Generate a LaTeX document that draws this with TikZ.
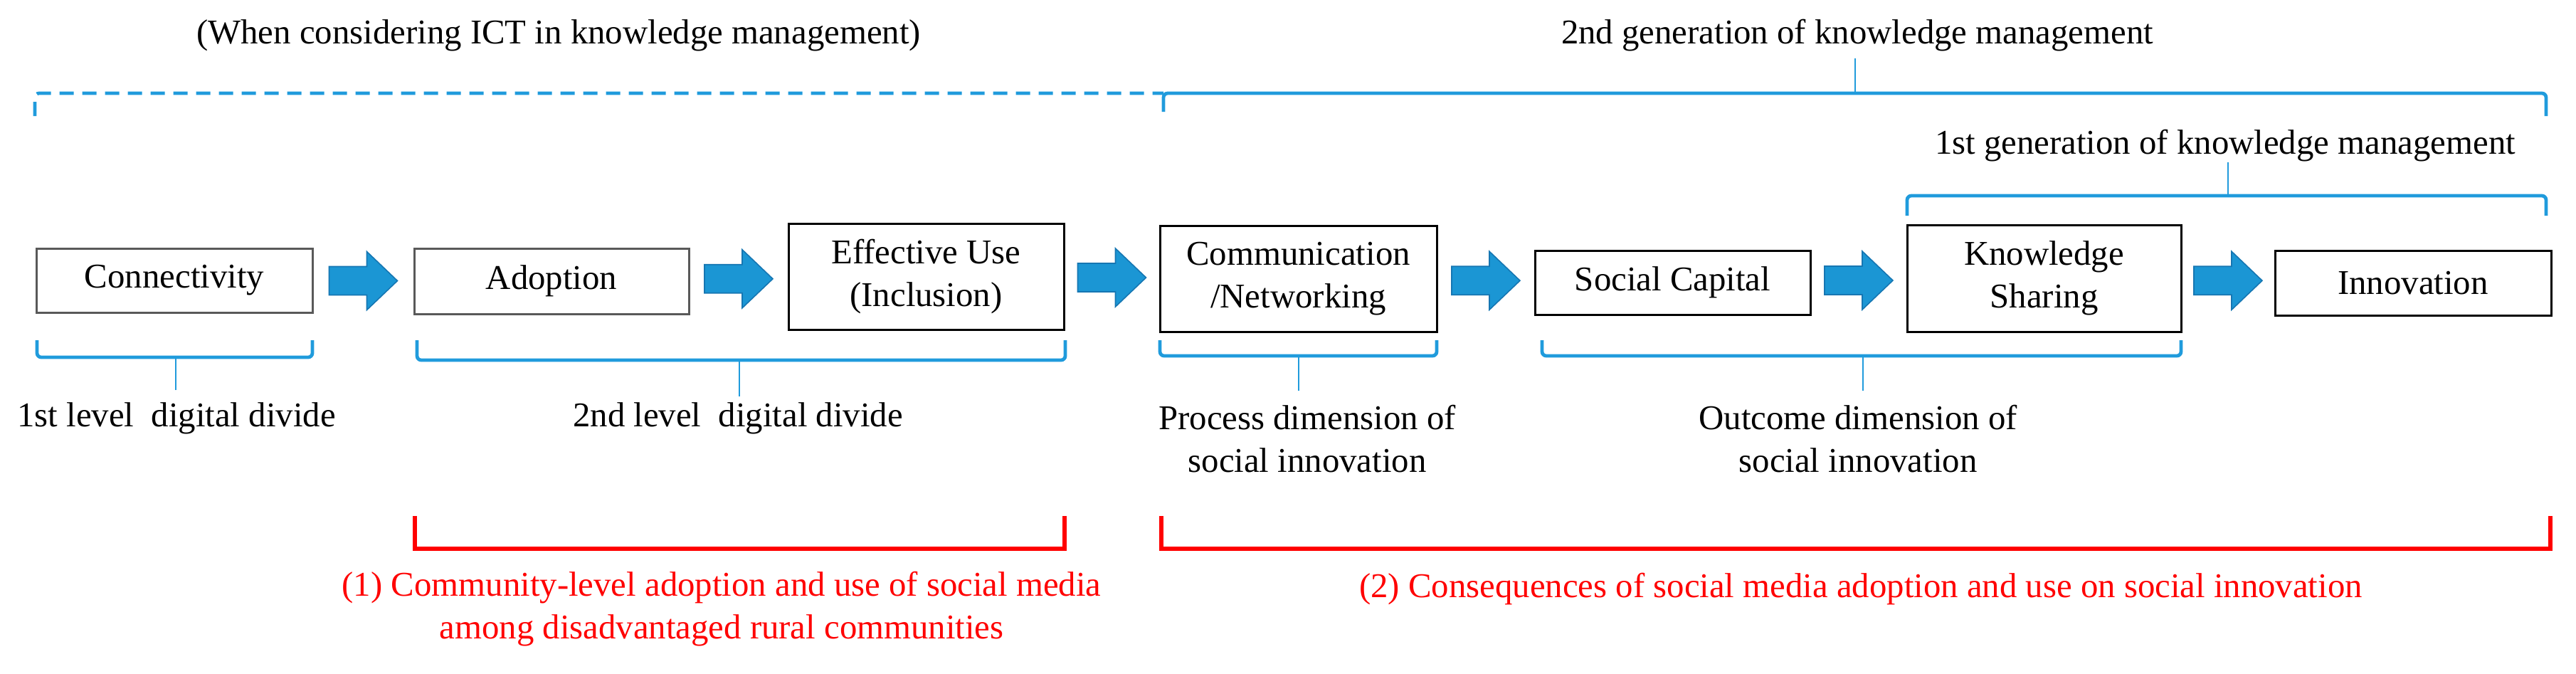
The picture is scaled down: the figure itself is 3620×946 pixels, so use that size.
\documentclass[tikz,border=0pt]{standalone}
\usepackage{fontspec}
\setmainfont{Liberation Serif}
\usetikzlibrary{calc}
\definecolor{kblue}{RGB}{32,155,220}
\definecolor{ablue}{RGB}{27,150,212}
\definecolor{aedge}{RGB}{22,118,178}
\newcommand\pxu{0.25pt}
\newcommand\fatarrow[2]{%
  \draw[fatarr] ($(#1.east)!0.5!(#2.west)$) ++(-48,-20) -- ++(53,0) -- ++(0,-21)
    -- ++(43,41) -- ++(-43,41) -- ++(0,-21) -- ++(-53,0) -- cycle;}
\begin{document}
\begin{tikzpicture}[x=0.25pt,y=-0.25pt,
  every node/.style={font=\fontsize{12.2}{15}\selectfont},
  box/.style={draw=black,line width=0.75pt,fill=white,inner sep=0pt,align=center},
  greybox/.style={box,draw=black!65},
  fatarr/.style={fill=ablue,draw=aedge,line width=0.4pt,line join=miter},
  brk/.style={draw=kblue,line width=1.2pt,rounded corners=1.5pt},
  stem/.style={draw=kblue,line width=0.6pt},
  dbrk/.style={brk,dash pattern=on 5pt off 3pt},
  redbrk/.style={draw=red,line width=1.5pt},
  lbl/.style={align=center,inner sep=0pt},
  redlbl/.style={lbl,text=red}]
\useasboundingbox (0,0) rectangle (3620,946);

% boxes
\node[greybox,minimum width=388*\pxu,minimum height=90*\pxu] (conn) at (245,394) {Connectivity};
\node[greybox,minimum width=386*\pxu,minimum height=92*\pxu] (adopt) at (775,395) {Adoption};
\node[box,minimum width=387*\pxu,minimum height=149*\pxu] (eff) at (1301.5,388.5) {Effective Use\\(Inclusion)};
\node[box,minimum width=389*\pxu,minimum height=149*\pxu] (comm) at (1824.5,391.5) {Communication\\/Networking};
\node[box,minimum width=387*\pxu,minimum height=90*\pxu] (soc) at (2350.5,397) {Social Capital};
\node[box,minimum width=385*\pxu,minimum height=150*\pxu] (know) at (2872.5,391) {Knowledge\\Sharing};
\node[box,minimum width=388*\pxu,minimum height=91*\pxu] (innov) at (3391,397.5) {Innovation};

% arrows
\fatarrow{conn}{adopt}
\fatarrow{adopt}{eff}
\fatarrow{eff}{comm}
\fatarrow{comm}{soc}
\fatarrow{soc}{know}
\fatarrow{know}{innov}

% top labels
\node[lbl] (ict) at (785,50) {(When considering ICT in knowledge management)};
\node[lbl] (gen2) at (2610,50) {2nd generation of knowledge management};
\node[lbl] (gen1) at (3127,205) {1st generation of knowledge management};

% top brackets
\draw[dbrk] (49,163) -- (49,131) -- (1635,131);
\draw[brk] (1635,157) -- (1635,131) -- (3578,131) -- (3578,163);
\coordinate (g2a) at (2607,131);
\coordinate (g2b) at (2607,82);
\draw[stem] (g2a) -- (g2b);
\draw[brk] (2680,303) -- (2680,275) -- (3578,275) -- (3578,303);
\coordinate (g1a) at (3131,275);
\coordinate (g1b) at (3131,228);
\draw[stem] (g1a) -- (g1b);

% bottom blue brackets
\draw[brk] (52,478) -- (52,502) -- (439,502) -- (439,478);
\coordinate (b1a) at (247,502); \coordinate (b1b) at (247,548);
\draw[stem] (b1a) -- (b1b);
\draw[brk] (586,478) -- (586,506) -- (1497,506) -- (1497,478);
\coordinate (b2a) at (1039,506); \coordinate (b2b) at (1039,557);
\draw[stem] (b2a) -- (b2b);
\draw[brk] (1630,478) -- (1630,500) -- (2019,500) -- (2019,478);
\coordinate (b3a) at (1825,500); \coordinate (b3b) at (1825,549);
\draw[stem] (b3a) -- (b3b);
\draw[brk] (2167,478) -- (2167,500) -- (3065,500) -- (3065,478);
\coordinate (b4a) at (2618,500); \coordinate (b4b) at (2618,549);
\draw[stem] (b4a) -- (b4b);

% bottom labels
\node[lbl] (l1) at (248,588) {1st level\ \ digital divide};
\node[lbl] (l2) at (1037,588) {2nd level\ \ digital divide};
\node[lbl] (l3) at (1837,617) {Process dimension of\\social innovation};
\node[lbl] (l4) at (2611,617) {Outcome dimension of\\social innovation};

% red brackets
\draw[redbrk] (583,725) -- (583,771) -- (1496,771) -- (1496,725);
\draw[redbrk] (1632,725) -- (1632,771) -- (3584,771) -- (3584,725);
\node[redlbl] (r1) at (1014,856) {(1) Community-level adoption and use of social media\\among disadvantaged rural communities};
\node[redlbl] (r2) at (2615,827) {(2) Consequences of social media adoption and use on social innovation};
\end{tikzpicture}
\end{document}
